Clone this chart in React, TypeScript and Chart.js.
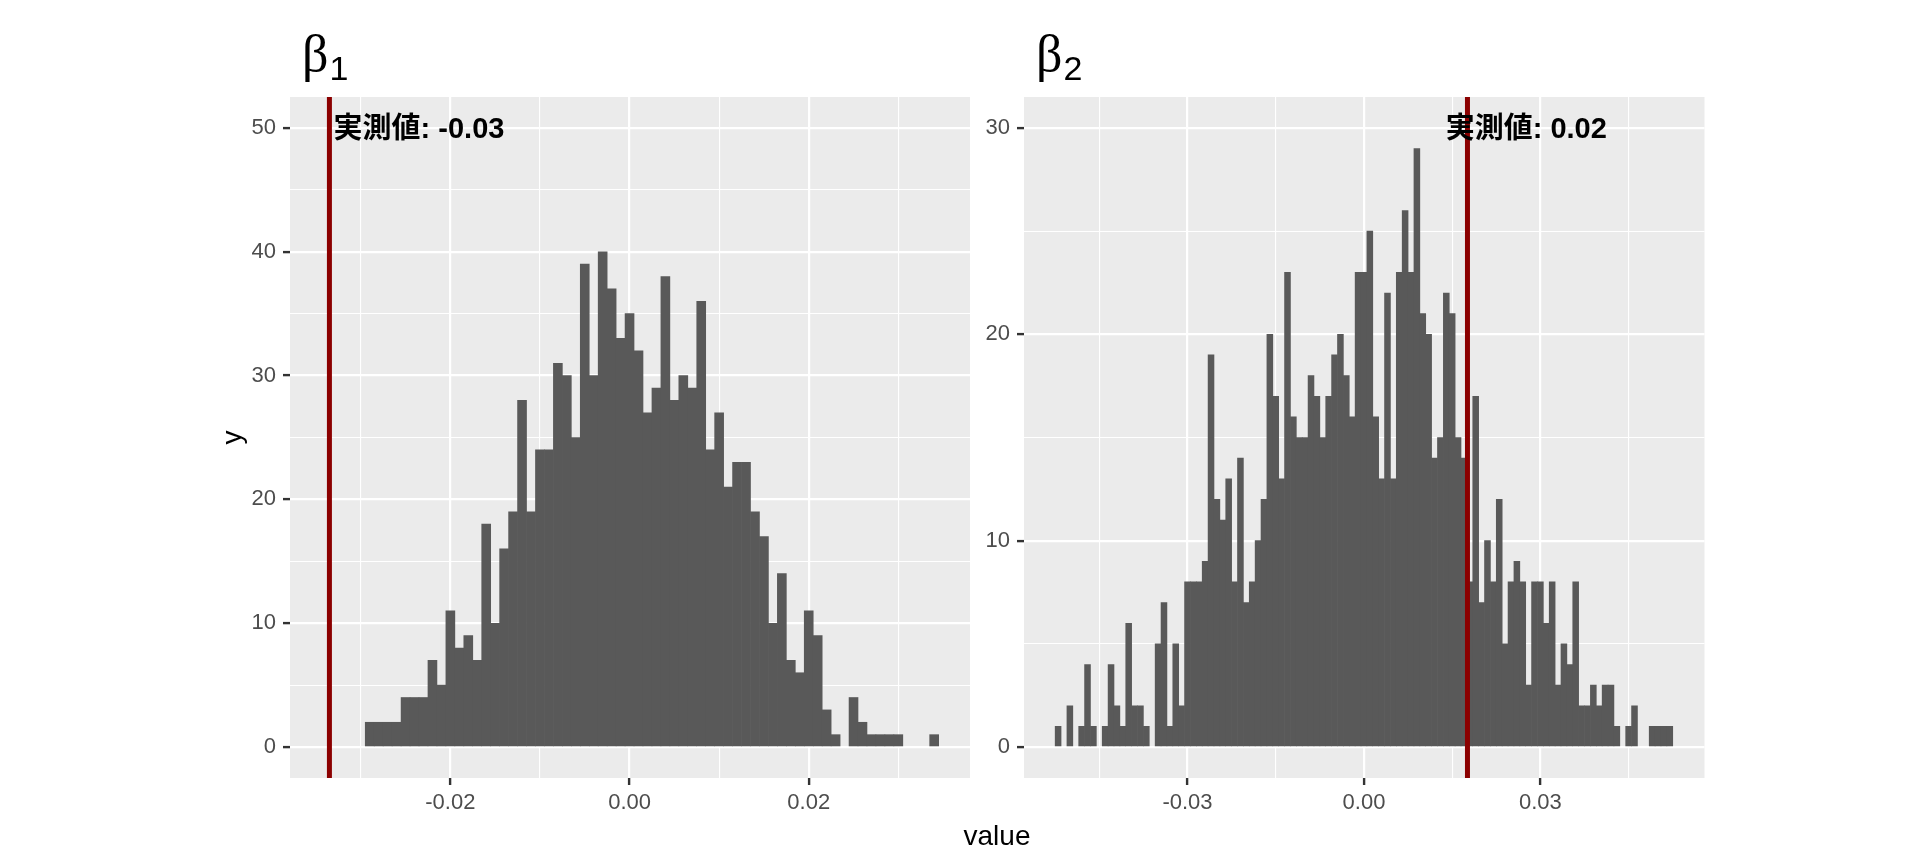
import React, { useEffect, useRef } from "react";
import { Chart, registerables } from "chart.js";

Chart.register(...registerables);

// ---------------- data ----------------
const BIN_WIDTH = 0.001;

// β1 histogram: counts per 0.001-wide bin, first bin centred at -0.029
const beta1FirstBin = -0.029;
const beta1Counts = [
  2, 2, 2, 2, 4, 4, 4, 7, 5, 11,
  8, 9, 7, 18, 10, 16, 19, 28, 19, 24,
  24, 31, 30, 25, 39, 30, 40, 37, 33, 35,
  32, 27, 29, 38, 28, 30, 29, 36, 24, 27,
  21, 23, 23, 19, 17, 10, 14, 7, 6, 11,
  9, 3, 1, 0, 4, 2, 1, 1, 1, 1,
  0, 0, 0, 1,
];

// β2 histogram: first bin centred at -0.052
const beta2FirstBin = -0.052;
const beta2Counts = [
  1, 0, 2, 0, 1, 4, 1, 0, 1, 4,
  2, 1, 6, 2, 2, 1, 0, 5, 7, 1,
  5, 2, 8, 8, 8, 9, 19, 12, 11, 13,
  8, 14, 7, 8, 10, 12, 20, 17, 13, 23,
  16, 15, 15, 18, 17, 15, 17, 19, 20, 18,
  16, 23, 23, 25, 16, 13, 22, 13, 23, 26,
  23, 29, 21, 20, 14, 15, 22, 21, 15, 14,
  8, 17, 7, 10, 8, 12, 5, 8, 9, 8,
  3, 8, 8, 6, 8, 3, 5, 4, 8, 2,
  2, 3, 2, 3, 3, 1, 0, 1, 2, 0,
  0, 1, 1, 1, 1,
];

const beta1Observed = -0.0335;
const beta2Observed = 0.0176;
const beta1Label = "実測値: -0.03";
const beta2Label = "実測値: 0.02";
const beta1LabelY = 50;
const beta2LabelY = 30;
const labelShift = 0.01;

const beta1XMajor = [-0.02, 0, 0.02];
const beta1XMinor = [-0.03, -0.01, 0.01, 0.03];
const beta1YMajor = [0, 10, 20, 30, 40, 50];
const beta1YMinor = [5, 15, 25, 35, 45];

const beta2XMajor = [-0.03, 0, 0.03];
const beta2XMinor = [-0.045, -0.015, 0.015, 0.045];
const beta2YMajor = [0, 10, 20, 30];
const beta2YMinor = [5, 15, 25];

const xAxisTitle = "value";
const yAxisTitle = "y";

// ---------------- layout / style ----------------
const W = 1920;
const H = 864;
const Y_AXIS_W = 80;
const X_AXIS_H = 60;
const PANEL_TOP = 97;
const PANEL_BOTTOM = 778;

const FONT_SANS = "'Liberation Sans', Arial, sans-serif";
const FONT_LABEL = "'Liberation Sans', 'Noto Sans CJK JP', sans-serif";
const FONT_SERIF = "'Liberation Serif', 'DejaVu Serif', serif";

type PanelSpec = {
  id: string;
  sub: string;
  firstBin: number;
  counts: number[];
  observed: number;
  label: string;
  labelY: number;
  xMajor: number[];
  xMinor: number[];
  yMajor: number[];
  yMinor: number[];
  xMin: number;
  xMax: number;
  yMin: number;
  yMax: number;
  left: number;
  right: number;
  shared: boolean;
};

const PANELS: PanelSpec[] = [
  {
    id: "b1",
    sub: "1",
    firstBin: beta1FirstBin,
    counts: beta1Counts,
    observed: beta1Observed,
    label: beta1Label,
    labelY: beta1LabelY,
    xMajor: beta1XMajor,
    xMinor: beta1XMinor,
    yMajor: beta1YMajor,
    yMinor: beta1YMinor,
    xMin: -0.0379,
    xMax: 0.038,
    yMin: -2.5,
    yMax: 52.5,
    left: 290,
    right: 970,
    shared: true,
  },
  {
    id: "b2",
    sub: "2",
    firstBin: beta2FirstBin,
    counts: beta2Counts,
    observed: beta2Observed,
    label: beta2Label,
    labelY: beta2LabelY,
    xMajor: beta2XMajor,
    xMinor: beta2XMinor,
    yMajor: beta2YMajor,
    yMinor: beta2YMinor,
    xMin: -0.0578,
    xMax: 0.0579,
    yMin: -1.5,
    yMax: 31.5,
    left: 1024,
    right: 1704.5,
    shared: false,
  },
];

const isIn = (arr: number[], v: number) => arr.some((m) => Math.abs(m - v) < 1e-9);

function decorPlugin(spec: PanelSpec) {
  return {
    id: "decor_" + spec.id,
    beforeDraw(chart: any) {
      const { ctx, chartArea: a } = chart;
      ctx.save();
      ctx.fillStyle = "#EBEBEB";
      ctx.fillRect(a.left, a.top, a.right - a.left, a.bottom - a.top);
      ctx.restore();
    },
    afterDatasetsDraw(chart: any) {
      const { ctx, chartArea: a, scales } = chart;
      const xs = scales.x;
      const ys = scales.y;
      const px = xs.getPixelForValue(spec.observed);
      ctx.save();
      ctx.strokeStyle = "#8B0000";
      ctx.lineWidth = 5;
      ctx.beginPath();
      ctx.moveTo(px, a.top);
      ctx.lineTo(px, a.bottom);
      ctx.stroke();
      ctx.fillStyle = "#000000";
      ctx.font = `bold 29px ${FONT_LABEL}`;
      ctx.textAlign = "center";
      ctx.textBaseline = "middle";
      ctx.fillText(
        spec.label,
        xs.getPixelForValue(spec.observed + labelShift),
        ys.getPixelForValue(spec.labelY) + 2
      );
      ctx.restore();
    },
    afterDraw(chart: any) {
      const { ctx, chartArea: a } = chart;
      ctx.save();
      ctx.fillStyle = "#000000";
      ctx.textAlign = "left";
      ctx.textBaseline = "alphabetic";
      ctx.font = `52px ${FONT_SERIF}`;
      const tx = a.left + 12;
      ctx.fillText("β", tx, 71);
      const bw = ctx.measureText("β").width;
      ctx.font = `34px ${FONT_SANS}`;
      ctx.fillText(spec.sub, tx + bw + 1, 80);

      if (spec.shared) {
        ctx.font = `28px ${FONT_SANS}`;
        ctx.textAlign = "center";
        ctx.fillText(xAxisTitle, 997, 845);
        ctx.translate(241, (PANEL_TOP + PANEL_BOTTOM) / 2);
        ctx.rotate(-Math.PI / 2);
        ctx.fillText(yAxisTitle, 0, 0);
      }
      ctx.restore();
    },
  };
}

function makeChart(canvas: HTMLCanvasElement, spec: PanelSpec) {
  const data = spec.counts.map((c, i) => ({
    x: spec.firstBin + i * BIN_WIDTH,
    y: c,
  }));
  const xTicks = [...spec.xMajor, ...spec.xMinor].sort((p, q) => p - q);
  const yTicks = [...spec.yMajor, ...spec.yMinor].sort((p, q) => p - q);

  const gridCommon = (major: number[]) => ({
    color: "#FFFFFF",
    lineWidth: (ctx: any) => (ctx.tick && isIn(major, ctx.tick.value) ? 2.2 : 1.1),
    tickColor: (ctx: any) =>
      ctx.tick && isIn(major, ctx.tick.value) ? "#333333" : "rgba(0,0,0,0)",
    tickWidth: 2.4,
    tickLength: 7,
    drawTicks: true,
    offset: false,
  });

  return new Chart(canvas, {
    type: "bar",
    data: {
      datasets: [
        {
          data,
          backgroundColor: (ctx: any) =>
            ctx.raw && ctx.raw.y === 0 ? "rgba(0,0,0,0)" : "#595959",
          borderWidth: 0,
          barPercentage: 1,
          categoryPercentage: 1,
        } as any,
      ],
    },
    options: {
      responsive: false,
      animation: false,
      devicePixelRatio: 1,
      layout: {
        padding: {
          left: spec.left - Y_AXIS_W,
          right: W - spec.right,
          top: PANEL_TOP,
          bottom: H - PANEL_BOTTOM - X_AXIS_H,
        },
      },
      plugins: {
        legend: { display: false },
        tooltip: { enabled: false },
        title: { display: false },
      },
      scales: {
        x: {
          type: "linear",
          offset: false,
          min: spec.xMin,
          max: spec.xMax,
          border: { display: false },
          grid: gridCommon(spec.xMajor) as any,
          afterBuildTicks: (scale: any) => {
            scale.ticks = xTicks.map((v) => ({ value: v }));
          },
          afterFit: (scale: any) => {
            scale.height = X_AXIS_H;
          },
          ticks: {
            autoSkip: false,
            maxRotation: 0,
            minRotation: 0,
            padding: 5,
            color: "#4D4D4D",
            font: { family: FONT_SANS, size: 22 },
            callback: (v: any) => (isIn(spec.xMajor, Number(v)) ? Number(v).toFixed(2) : ""),
          },
        },
        y: {
          type: "linear",
          min: spec.yMin,
          max: spec.yMax,
          border: { display: false },
          grid: gridCommon(spec.yMajor) as any,
          afterBuildTicks: (scale: any) => {
            scale.ticks = yTicks.map((v) => ({ value: v }));
          },
          afterFit: (scale: any) => {
            scale.width = Y_AXIS_W;
          },
          ticks: {
            autoSkip: false,
            padding: 7,
            color: "#4D4D4D",
            font: { family: FONT_SANS, size: 22 },
            callback: (v: any) => (isIn(spec.yMajor, Number(v)) ? String(Number(v)) : ""),
          },
        },
      },
    } as any,
    plugins: [decorPlugin(spec)],
  });
}

export default function App() {
  const c1 = useRef<HTMLCanvasElement>(null);
  const c2 = useRef<HTMLCanvasElement>(null);

  useEffect(() => {
    const charts: Chart[] = [];
    if (c1.current) charts.push(makeChart(c1.current, PANELS[0]));
    if (c2.current) charts.push(makeChart(c2.current, PANELS[1]));
    return () => charts.forEach((c) => c.destroy());
  }, []);

  return (
    <div
      style={{
        position: "absolute",
        left: 0,
        top: 0,
        width: W,
        height: H,
        background: "#FFFFFF",
        overflow: "hidden",
      }}
    >
      <canvas
        ref={c1}
        width={W}
        height={H}
        style={{ position: "absolute", left: 0, top: 0 }}
      />
      <canvas
        ref={c2}
        width={W}
        height={H}
        style={{ position: "absolute", left: 0, top: 0 }}
      />
    </div>
  );
}
